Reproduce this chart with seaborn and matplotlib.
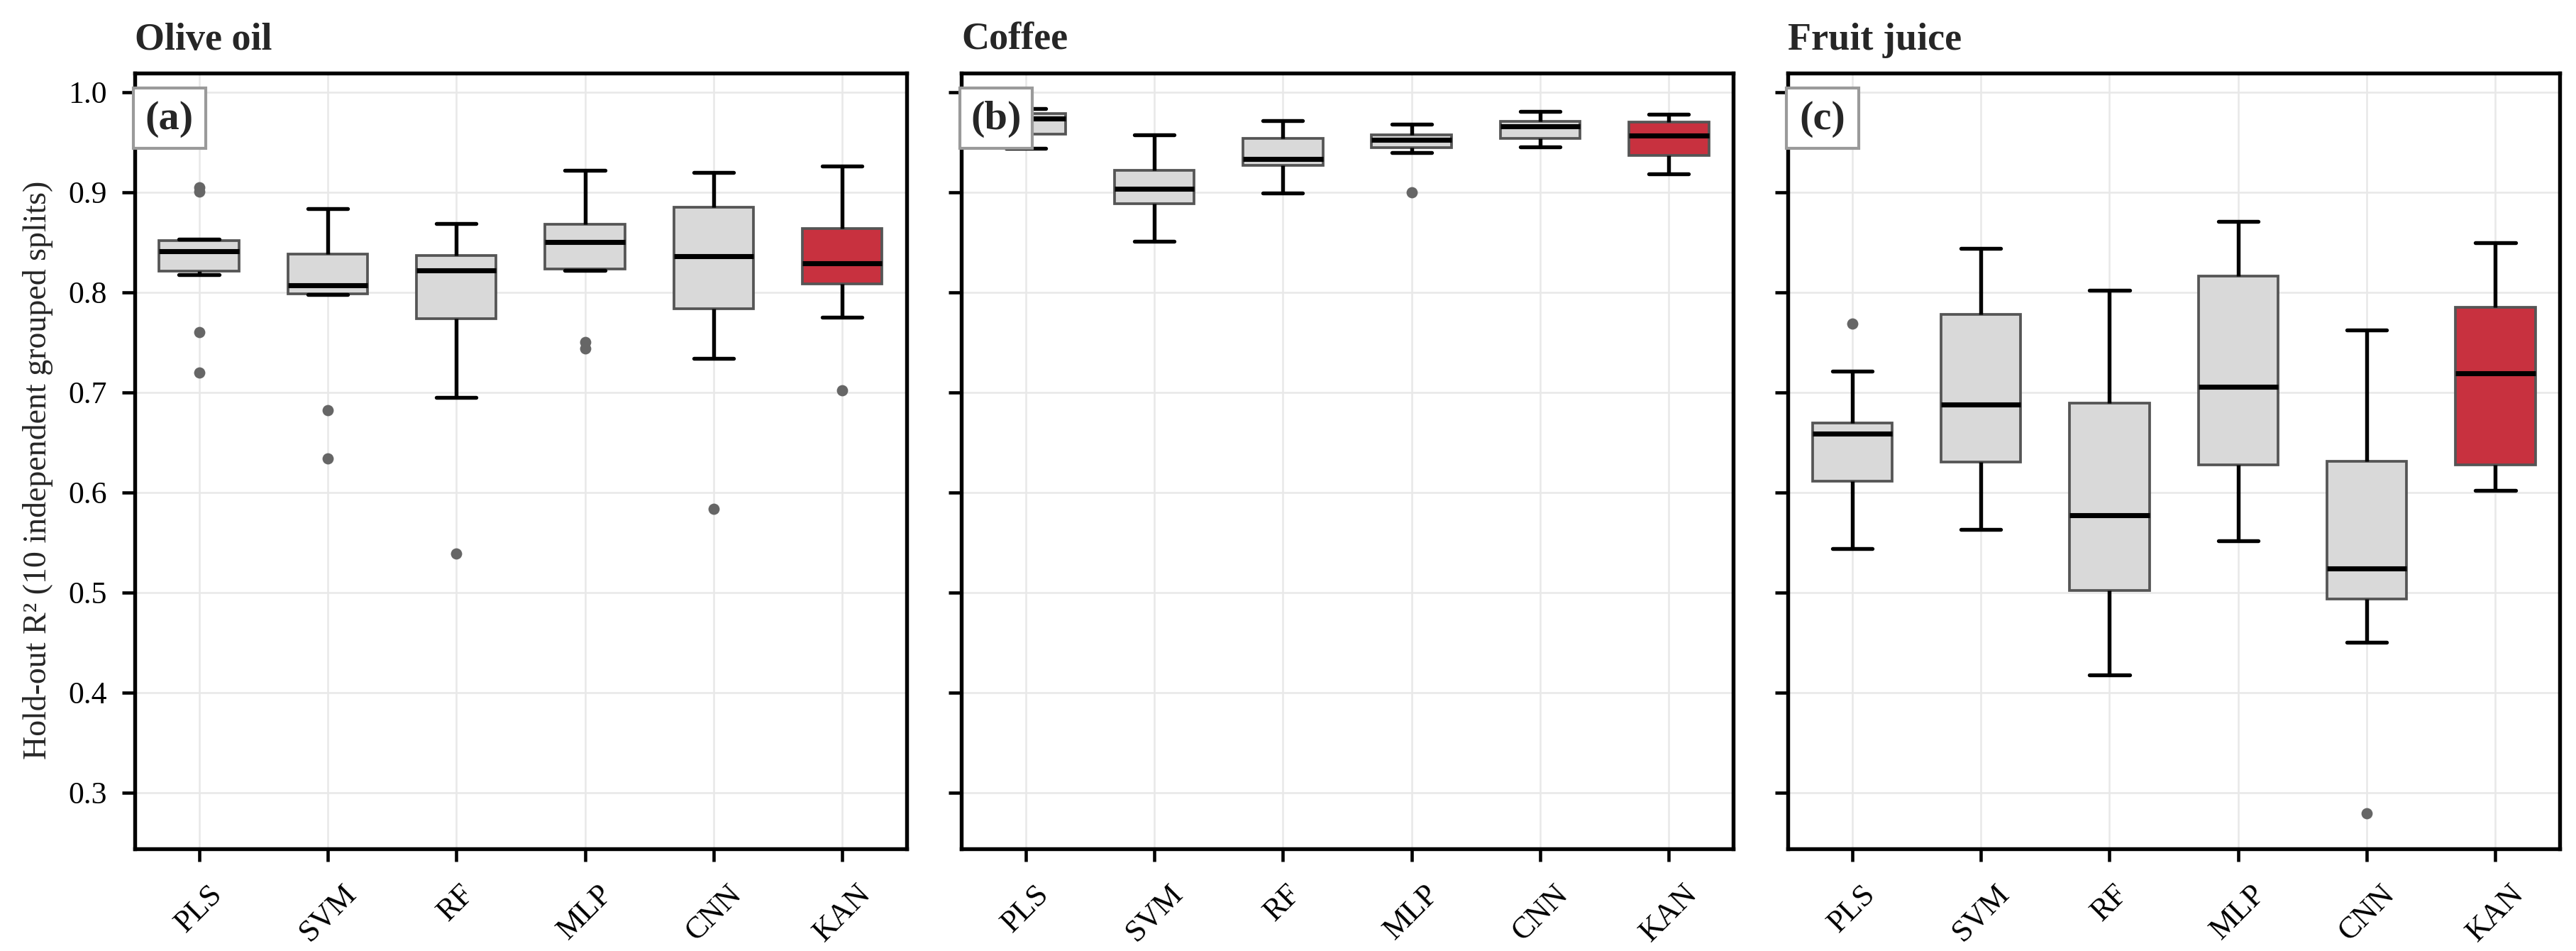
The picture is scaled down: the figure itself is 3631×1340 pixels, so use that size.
import pandas as pd
import seaborn as sns
import matplotlib.pyplot as plt
from matplotlib.patches import Rectangle

# model order on the x axis
models = ["PLS", "SVM", "RF", "MLP", "CNN", "KAN"]

# hold-out R2 for the 10 grouped splits
olive_pls = [0.720, 0.760, 0.818, 0.830, 0.836, 0.846, 0.849, 0.853, 0.901, 0.905]
olive_svm = [0.634, 0.682, 0.798, 0.799, 0.803, 0.811, 0.830, 0.841, 0.860, 0.884]
olive_rf = [0.539, 0.695, 0.765, 0.801, 0.818, 0.826, 0.833, 0.838, 0.845, 0.869]
olive_mlp = [0.744, 0.750, 0.822, 0.828, 0.845, 0.855, 0.862, 0.870, 0.890, 0.922]
olive_cnn = [0.584, 0.734, 0.770, 0.826, 0.832, 0.840, 0.880, 0.887, 0.905, 0.920]
olive_kan = [0.702, 0.775, 0.805, 0.820, 0.825, 0.833, 0.860, 0.865, 0.890, 0.926]

coffee_pls = [0.944, 0.950, 0.955, 0.967, 0.972, 0.975, 0.977, 0.9797, 0.982, 0.984]
coffee_svm = [0.851, 0.872, 0.885, 0.8994, 0.901, 0.906, 0.919, 0.9225, 0.935, 0.9575]
coffee_rf = [0.8994, 0.915, 0.925, 0.9318, 0.932, 0.9346, 0.950, 0.9553, 0.962, 0.9714]
coffee_mlp = [0.900, 0.940, 0.943, 0.951, 0.9515, 0.9533, 0.956, 0.958, 0.963, 0.968]
coffee_cnn = [0.9454, 0.950, 0.952, 0.9588, 0.965, 0.967, 0.970, 0.9713, 0.975, 0.9806]
coffee_kan = [0.9187, 0.930, 0.935, 0.943, 0.953, 0.960, 0.968, 0.9707, 0.974, 0.9778]

juice_pls = [0.5442, 0.590, 0.605, 0.629, 0.655, 0.6626, 0.666, 0.6709, 0.7212, 0.7685]
juice_svm = [0.563, 0.600, 0.625, 0.6462, 0.680, 0.6958, 0.770, 0.7809, 0.810, 0.8442]
juice_rf = [0.4176, 0.470, 0.495, 0.5246, 0.560, 0.594, 0.680, 0.692, 0.740, 0.8024]
juice_mlp = [0.552, 0.600, 0.620, 0.6492, 0.690, 0.722, 0.810, 0.8185, 0.840, 0.871]
juice_cnn = [0.2794, 0.4503, 0.490, 0.5032, 0.515, 0.5334, 0.620, 0.6347, 0.700, 0.7624]
juice_kan = [0.6018, 0.615, 0.622, 0.6456, 0.710, 0.7288, 0.780, 0.7864, 0.820, 0.8497]

datasets = ["Olive oil", "Coffee", "Fruit juice"]
panel_tags = ["(a)", "(b)", "(c)"]
values = {
    "Olive oil": [olive_pls, olive_svm, olive_rf, olive_mlp, olive_cnn, olive_kan],
    "Coffee": [coffee_pls, coffee_svm, coffee_rf, coffee_mlp, coffee_cnn, coffee_kan],
    "Fruit juice": [juice_pls, juice_svm, juice_rf, juice_mlp, juice_cnn, juice_kan],
}

palette = {m: "#d9d9d9" for m in models}
palette["KAN"] = "#c8313f"

sns.set_style("ticks")
plt.rcParams["font.family"] = ["Liberation Serif", "DejaVu Serif"]
plt.rcParams["axes.linewidth"] = 1.3

fig, axes = plt.subplots(1, 3, figsize=(3631 / 300, 1340 / 300), dpi=300, sharey=True)
fig.subplots_adjust(left=0.0523, right=0.9937, top=0.923, bottom=0.1075, wspace=0.0708)

for i, (ax, name) in enumerate(zip(axes, datasets)):
    rows = []
    for m, vals in zip(models, values[name]):
        for v in vals:
            rows.append({"model": m, "r2": v})
    df = pd.DataFrame(rows)

    sns.boxplot(
        data=df, x="model", y="r2", hue="model", order=models, hue_order=models,
        palette=palette, legend=False, ax=ax, width=0.62, saturation=1,
        boxprops=dict(edgecolor="#555555", linewidth=0.9),
        whiskerprops=dict(color="black", linewidth=1.3),
        capprops=dict(color="black", linewidth=1.3),
        medianprops=dict(color="black", linewidth=1.7),
        flierprops=dict(marker="o", markerfacecolor="#666666",
                        markeredgecolor="none", markersize=3.8),
    )

    ax.set_ylim(0.244, 1.019)
    ax.set_xlim(-0.5, 5.5)
    ax.set_yticks([0.3, 0.4, 0.5, 0.6, 0.7, 0.8, 0.9, 1.0])
    ax.grid(True, color="#e8e8e8", linewidth=0.6)
    ax.set_axisbelow(True)
    ax.set_xlabel("")
    ax.set_ylabel("")
    for s in ax.spines.values():
        s.set_visible(True)
        s.set_color("black")
        s.set_linewidth(1.3)
    ax.tick_params(axis="both", direction="out", length=4.4, width=1.1,
                   labelsize=10.5, colors="black", pad=5)
    ax.tick_params(axis="x", pad=6)
    for lab in ax.get_xticklabels():
        lab.set_rotation(45)
        lab.set_ha("center")

    ax.set_title(name, loc="left", fontsize=13, fontweight="bold", pad=8)

    # panel tag in a framed white box at the top-left corner
    ax.add_patch(Rectangle((-0.002, 0.903), 0.094, 0.078, transform=ax.transAxes,
                           facecolor="white", edgecolor="#9a9a9a", linewidth=1.0,
                           zorder=10, clip_on=False))
    ax.text(0.045, 0.941, panel_tags[i], transform=ax.transAxes, ha="center",
            va="center", fontsize=14, fontweight="bold", zorder=11)

fig.text(0.0146, 0.506, "Hold-out R² (10 independent grouped splits)",
         rotation=90, ha="center", va="center", fontsize=11)

fig.savefig("out.png", dpi=300)
